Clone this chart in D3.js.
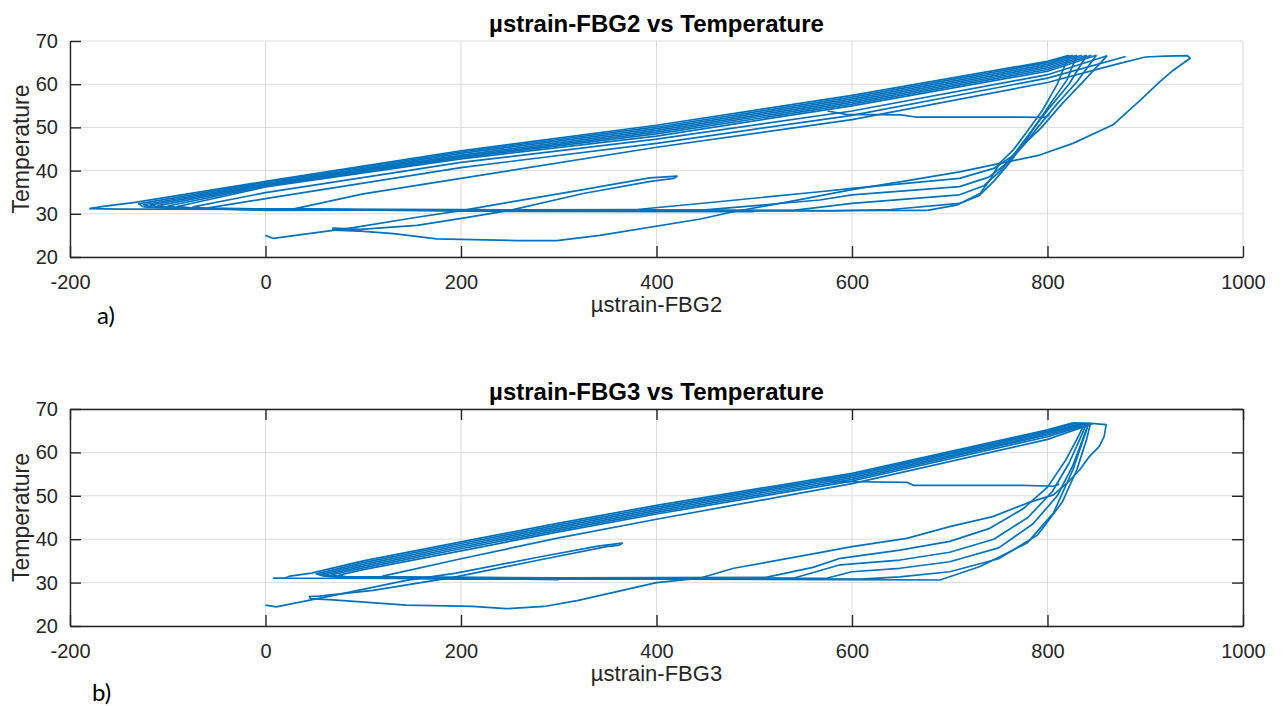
<!DOCTYPE html>
<html>
<head>
<meta charset="utf-8">
<script src="https://cdn.jsdelivr.net/npm/d3@7"></script>
<style>
  body { margin: 0; background: #fff; }
  svg { display: block; }
</style>
</head>
<body>
<svg id="fig" width="1284" height="706"></svg>
<script>
// ---- axes ----
const xTicks = [-200, 0, 200, 400, 600, 800, 1000];
const yTicks = [20, 30, 40, 50, 60, 70];

// ---- a) FBG2 : [µstrain, temperature] ----
const fbg2Start = [[0,25.0],[8,24.3],[90,26.8],[155,29.2],[202,30.8],[250,32.7],[325,35.6],[393,38.3],[421,38.7],[418,38.2]];
const fbg2Return = [[418,38.2],[394,37.5],[325,34.7],[250,30.8],[202,29.0],[155,27.3],[97,26.4],[69,26.7],[69,26.2],[97,26.0],[131,25.4],[175,24.2],[257,23.8],[298,23.8],[342,25.0],[445,28.8],[475,30.3]];
const fbg2FirstHeat = [[475,30.3],[540,33.0],[600,35.6],[660,37.8],[710,39.7],[765,42.3],[792,43.6],[826,46.3],[867,50.6],[895,56.3],[915,60.6],[929,63.3],[946,66.0],[943,66.6],[920,66.5],[900,66.3]];
const fbg2Cooling = [
  [[822,66.7],[800,65.3],[600,57.4],[400,50.5],[200,44.6],[0,37.5],[-135,32.6],[-166,31.7],[-180,31.2]],
  [[826,66.7],[800,65.0],[600,57.0],[400,50.1],[200,44.3],[0,37.3],[-130,32.3],[-125,31.6]],
  [[830,66.7],[800,64.6],[600,56.6],[400,49.7],[200,44.0],[0,37.0],[-125,32.1],[-115,31.5]],
  [[835,66.7],[800,64.2],[600,56.2],[400,49.3],[200,43.6],[0,36.8],[-118,32.0],[-105,31.4]],
  [[840,66.7],[800,63.8],[600,55.8],[400,48.9],[200,43.3],[0,36.6],[-110,31.9],[-95,31.3]],
  [[845,66.7],[800,63.4],[600,55.4],[400,48.5],[200,43.0],[0,36.4],[-100,31.8],[-80,31.2]],
  [[850,66.7],[800,63.0],[600,55.0],[400,48.0],[200,42.7],[0,36.2],[-90,31.7],[-70,31.2]],
  [[861,66.6],[800,62.2],[600,53.8],[400,47.3],[200,41.9],[0,34.9],[-74,31.6],[-60,31.2]],
  [[880,66.4],[800,61.4],[600,52.8],[400,46.3],[200,40.7],[0,33.5],[-60,31.3]],
  [[900,66.3],[870,64.6],[800,60.4],[600,51.8],[400,45.4],[200,38.2],[100,34.6],[28,31.1]]
];
const fbg2Base = [
  [[-180,31.2],[-150,31.1],[0,31.0],[300,30.8],[500,30.7],[677,30.8]],
  [[-125,31.6],[-100,31.3],[100,31.0],[400,30.8],[580,30.7]],
  [[-105,31.4],[0,31.1],[300,30.9],[540,30.8]],
  [[-80,31.2],[100,30.9],[450,30.9]],
  [[-60,31.2],[0,30.8],[380,31.0]],
  [[28,31.1],[200,30.6],[500,30.5]]
];
const fbg2Heating = [
  [[677,30.8],[707,32.0],[731,34.7],[741,37.8],[751,41.7],[765,44.8],[778,48.7],[795,54.0],[810,60.0],[818,64.5],[822,66.7]],
  [[580,30.7],[640,31.0],[710,32.4],[730,34.2],[745,37.5],[760,41.5],[775,46.0],[788,50.5],[803,55.5],[820,61.0],[830,66.7]],
  [[540,30.8],[600,32.4],[710,34.4],[735,36.5],[752,40.0],[768,44.5],[783,49.0],[800,54.0],[822,60.0],[840,66.7]],
  [[450,30.9],[567,33.2],[600,34.4],[710,36.3],[740,38.5],[760,42.0],[776,46.0],[790,50.0],[810,55.5],[830,60.5],[850,66.7]],
  [[380,31.0],[450,32.5],[567,35.1],[600,35.9],[710,38.2],[745,40.5],[765,43.5],[780,47.0],[794,50.0],[815,55.5],[836,60.5],[861,66.6]]
];
const fbg2Hold = [[575,53.8],[594,53.0],[650,52.9],[665,52.4],[772,52.4],[796,52.3],[802,52.8]];

// ---- b) FBG3 ----
const fbg3Start = [[0,24.8],[11,24.4],[80,27.5],[144,30.5],[195,32.2],[280,35.9],[340,38.4],[365,39.1],[362,38.6]];
const fbg3Return = [[362,38.6],[349,38.3],[280,35.2],[192,31.2],[110,28.2],[55,26.9],[45,26.8],[46,26.3],[69,26.0],[144,24.8],[212,24.5],[246,24.0],[285,24.5],[320,25.9],[400,30.0],[444,31.0]];
const fbg3FirstHeat = [[444,31.0],[479,33.3],[560,36.6],[600,38.3],[656,40.2],[700,42.9],[744,45.2],[779,48.3],[806,50.2],[820,52.9],[833,56.0],[843,59.1],[853,61.4],[858,63.7],[860,66.4],[845,66.7],[826,66.8]];
const fbg3Cooling = [
  [[826,66.8],[800,65.2],[600,55.2],[400,47.8],[300,43.7],[200,39.4],[100,35.0],[47,32.2],[25,31.5],[20,31.0],[8,31.0]],
  [[830,66.8],[800,64.9],[600,54.9],[400,47.4],[300,43.3],[200,39.0],[100,34.6],[52,32.0],[60,31.5]],
  [[835,66.7],[800,64.6],[600,54.6],[400,47.0],[300,42.9],[200,38.6],[100,34.2],[57,31.9],[66,31.4]],
  [[838,66.7],[800,64.3],[600,54.2],[400,46.6],[300,42.5],[200,38.2],[100,33.8],[62,31.8],[72,31.3]],
  [[842,66.7],[800,64.0],[600,53.8],[400,46.2],[300,42.1],[200,37.8],[100,33.4],[68,31.8],[78,31.3]],
  [[845,66.7],[800,63.6],[600,53.4],[400,45.8],[300,41.7],[200,37.3],[100,33.0],[75,31.7],[85,31.2]],
  [[846,66.6],[800,63.0],[600,52.8],[400,44.6],[300,40.3],[200,35.5],[120,31.5],[130,31.2]]
];
const fbg3Base = [
  [[8,31.0],[40,31.0],[200,30.9],[400,30.8],[600,30.7],[690,30.6]],
  [[60,31.5],[90,31.2],[300,31.0],[608,30.8]],
  [[66,31.4],[200,31.0],[574,31.0]],
  [[72,31.3],[250,31.1],[540,31.0]],
  [[78,31.3],[300,31.1],[512,31.2]],
  [[85,31.2],[200,30.8],[400,30.9]],
  [[130,31.2],[300,30.7]]
];
const fbg3Heating = [
  [[512,31.2],[560,33.5],[588,35.6],[649,37.5],[700,39.5],[741,42.5],[775,47.0],[800,52.0],[818,58.0],[830,63.0],[838,66.7]],
  [[540,31.0],[588,34.1],[649,35.2],[700,37.0],[745,40.0],[780,45.0],[805,51.0],[822,57.5],[833,63.0],[840,66.7]],
  [[574,31.0],[600,32.5],[649,33.3],[700,34.8],[750,38.0],[785,43.5],[810,50.0],[826,57.0],[836,63.0],[842,66.7]],
  [[608,30.8],[649,31.3],[700,32.5],[750,35.5],[790,41.0],[815,48.5],[830,56.0],[840,63.0],[844,66.7]],
  [[690,30.6],[731,33.7],[779,39.1],[806,46.0],[826,56.0],[840,65.2],[842,66.8]]
];
const fbg3Hold = [[570,53.6],[588,53.3],[656,53.1],[663,52.4],[775,52.4],[806,52.2],[812,52.7]];

// ---- panels ----
const panels = [
  {
    top: 41, bottom: 257, box: false,
    title: "µstrain-FBG2 vs Temperature", xLabel: "µstrain-FBG2",
    tag: "a)", tagX: 97, tagY: 324,
    series: [fbg2Start, fbg2Return, fbg2FirstHeat, ...fbg2Cooling, ...fbg2Base, ...fbg2Heating, fbg2Hold]
  },
  {
    top: 409, bottom: 626, box: true,
    title: "µstrain-FBG3 vs Temperature", xLabel: "µstrain-FBG3",
    tag: "b)", tagX: 92, tagY: 701,
    series: [fbg3Start, fbg3Return, fbg3FirstHeat, ...fbg3Cooling, ...fbg3Base, ...fbg3Heating, fbg3Hold]
  }
];

const left = 70, right = 1243;
const axisColor = "#262626";
const gridColor = "#dcdcdc";
const lineColor = "#0072bd";
const font = "'Liberation Sans', Arial, Helvetica, sans-serif";

const svg = d3.select("#fig");

function drawPanel(p) {
  const x = d3.scaleLinear().domain([-200, 1000]).range([left, right]);
  const y = d3.scaleLinear().domain([20, 70]).range([p.bottom, p.top]);
  const g = svg.append("g");

  // grid
  g.append("g").selectAll("line").data(xTicks).join("line")
    .attr("x1", d => x(d)).attr("x2", d => x(d))
    .attr("y1", p.top).attr("y2", p.bottom)
    .attr("stroke", gridColor).attr("stroke-width", 1);
  g.append("g").selectAll("line").data(yTicks).join("line")
    .attr("x1", left).attr("x2", right)
    .attr("y1", d => y(d)).attr("y2", d => y(d))
    .attr("stroke", gridColor).attr("stroke-width", 1);

  // data
  const line = d3.line().x(d => x(d[0])).y(d => y(d[1]));
  g.append("g").selectAll("path").data(p.series).join("path")
    .attr("d", line)
    .attr("fill", "none")
    .attr("stroke", lineColor)
    .attr("stroke-width", 1.7)
    .attr("stroke-linejoin", "round");

  // axes (ticks inward), plain hyphen for negatives
  const fmt = d => String(d);
  g.append("g")
    .attr("transform", `translate(0,${p.bottom})`)
    .call(d3.axisBottom(x).tickValues(xTicks).tickFormat(fmt).tickSizeInner(-11).tickSizeOuter(0).tickPadding(18));
  g.append("g")
    .attr("transform", `translate(${left},0)`)
    .call(d3.axisLeft(y).tickValues(yTicks).tickFormat(fmt).tickSizeInner(-11).tickSizeOuter(0).tickPadding(12));

  if (p.box) {
    g.append("g").attr("transform", `translate(0,${p.top})`)
      .call(d3.axisTop(x).tickValues(xTicks).tickSizeInner(-11).tickSizeOuter(0).tickFormat(""));
    g.append("g").attr("transform", `translate(${right},0)`)
      .call(d3.axisRight(y).tickValues(yTicks).tickSizeInner(-11).tickSizeOuter(0).tickFormat(""));
  }

  g.selectAll(".domain, .tick line").attr("stroke", axisColor).attr("stroke-width", 1.4);
  g.selectAll(".tick text")
    .attr("fill", axisColor)
    .attr("font-family", font)
    .attr("font-size", 20);

  // title and labels
  g.append("text")
    .attr("x", (left + right) / 2).attr("y", p.top - 9)
    .attr("text-anchor", "middle")
    .attr("font-family", font).attr("font-weight", "bold").attr("font-size", 24)
    .attr("fill", "#000")
    .text(p.title);
  g.append("text")
    .attr("x", (left + right) / 2).attr("y", p.bottom + 55)
    .attr("text-anchor", "middle")
    .attr("font-family", font).attr("font-size", 22)
    .attr("fill", axisColor)
    .text(p.xLabel);
  g.append("text")
    .attr("transform", `translate(29,${(p.top + p.bottom) / 2}) rotate(-90)`)
    .attr("text-anchor", "middle")
    .attr("font-family", font).attr("font-size", 23)
    .attr("fill", axisColor)
    .text("Temperature");
  g.append("text")
    .attr("x", p.tagX).attr("y", p.tagY)
    .attr("font-family", "Lato, 'Open Sans', sans-serif").attr("font-size", 24)
    .attr("fill", "#000")
    .text(p.tag);
}

panels.forEach(drawPanel);
</script>
</body>
</html>
